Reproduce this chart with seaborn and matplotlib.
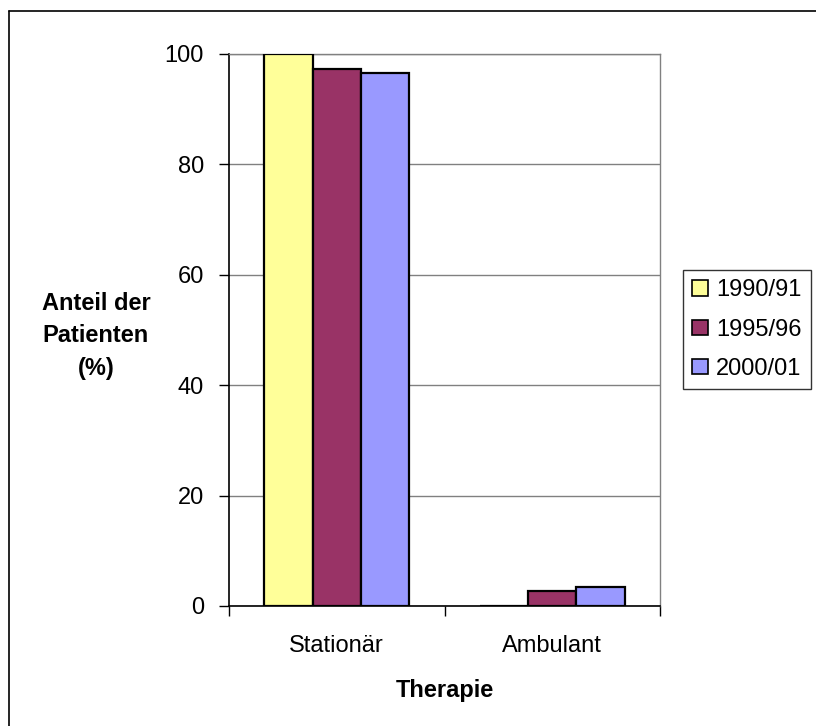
import matplotlib
matplotlib.use("Agg")
import matplotlib.pyplot as plt
from matplotlib.patches import Patch
import seaborn as sns
import pandas as pd

categories = ["Stationär", "Ambulant"]
periods = ["1990/91", "1995/96", "2000/01"]
share_1990 = [100.0, 0.0]
share_1995 = [97.2, 2.8]
share_2000 = [96.6, 3.4]
y_ticks = [0, 20, 40, 60, 80, 100]

colors = ["#FFFF99", "#993366", "#9999FF"]

rows = []
for period, values in zip(periods, [share_1990, share_1995, share_2000]):
    for cat, v in zip(categories, values):
        rows.append({"Therapie": cat, "Zeitraum": period, "Anteil": v})
df = pd.DataFrame(rows)

sns.set_theme(style="white")
plt.rcParams["font.family"] = ["Liberation Sans", "DejaVu Sans"]
plt.rcParams["text.color"] = "black"
plt.rcParams["xtick.color"] = "black"
plt.rcParams["ytick.color"] = "black"

FS = 17

fig = plt.figure(figsize=(8.16, 7.26), dpi=100)
ax = fig.add_axes([229 / 816, 1 - 606 / 726, 431 / 816, 552 / 726])

sns.barplot(data=df, x="Therapie", y="Anteil", hue="Zeitraum",
            hue_order=periods, order=categories, palette=colors,
            saturation=1, width=0.675, edgecolor="black", linewidth=1.6,
            legend=False, ax=ax, zorder=3)

ax.set_ylim(0, 100)
ax.set_xlim(-0.5, 1.5)
ax.set_yticks(y_ticks)
ax.set_yticklabels([str(t) for t in y_ticks], fontsize=FS)
ax.yaxis.grid(True, color="#808080", linewidth=1.0, zorder=0)
ax.set_axisbelow(True)

# category labels centred, tick marks on the category boundaries
ax.set_xticks([0, 1])
ax.set_xticklabels(categories, fontsize=FS)
ax.set_xticks([-0.5, 0.5, 1.5], minor=True)
ax.tick_params(axis="x", which="major", length=0, pad=21)
ax.tick_params(axis="x", which="minor", length=7, width=1.0, color="black",
               direction="out", bottom=True)
ax.tick_params(axis="y", length=7, width=1.0, color="black",
               direction="out", left=True, pad=11)

for side in ["left", "bottom"]:
    ax.spines[side].set_color("black")
    ax.spines[side].set_linewidth(1.2)
ax.spines["top"].set_color("#808080")
ax.spines["right"].set_color("#808080")
ax.spines["top"].set_linewidth(1.0)
ax.spines["right"].set_linewidth(1.0)

ax.set_xlabel("")
ax.set_ylabel("")
fig.text(96 / 816, 1 - 336 / 726, "Anteil der\nPatienten\n(%)",
         ha="center", va="center", fontsize=FS, fontweight="bold",
         linespacing=1.5)
fig.text(445 / 816, 1 - 691 / 726, "Therapie", ha="center", va="center",
         fontsize=FS, fontweight="bold")

handles = [Patch(facecolor=c, edgecolor="black", linewidth=1.2) for c in colors]
leg = fig.legend(handles, periods, loc="upper left",
                 bbox_to_anchor=(683 / 816, 1 - 270 / 726),
                 frameon=True, fancybox=False, fontsize=FS,
                 handlelength=0.64, handleheight=0.64, handletextpad=0.35,
                 labelspacing=0.73, borderpad=0.4, borderaxespad=0)
leg.get_frame().set_edgecolor("black")
leg.get_frame().set_linewidth(1.0)

# outer chart frame
fig.add_artist(plt.Line2D([9 / 816, 9 / 816], [0, 1 - 11 / 726],
                          transform=fig.transFigure, color="black", linewidth=1.2))
fig.add_artist(plt.Line2D([9 / 816, 1], [1 - 11 / 726, 1 - 11 / 726],
                          transform=fig.transFigure, color="black", linewidth=1.2))

fig.savefig("out.png", dpi=100)
